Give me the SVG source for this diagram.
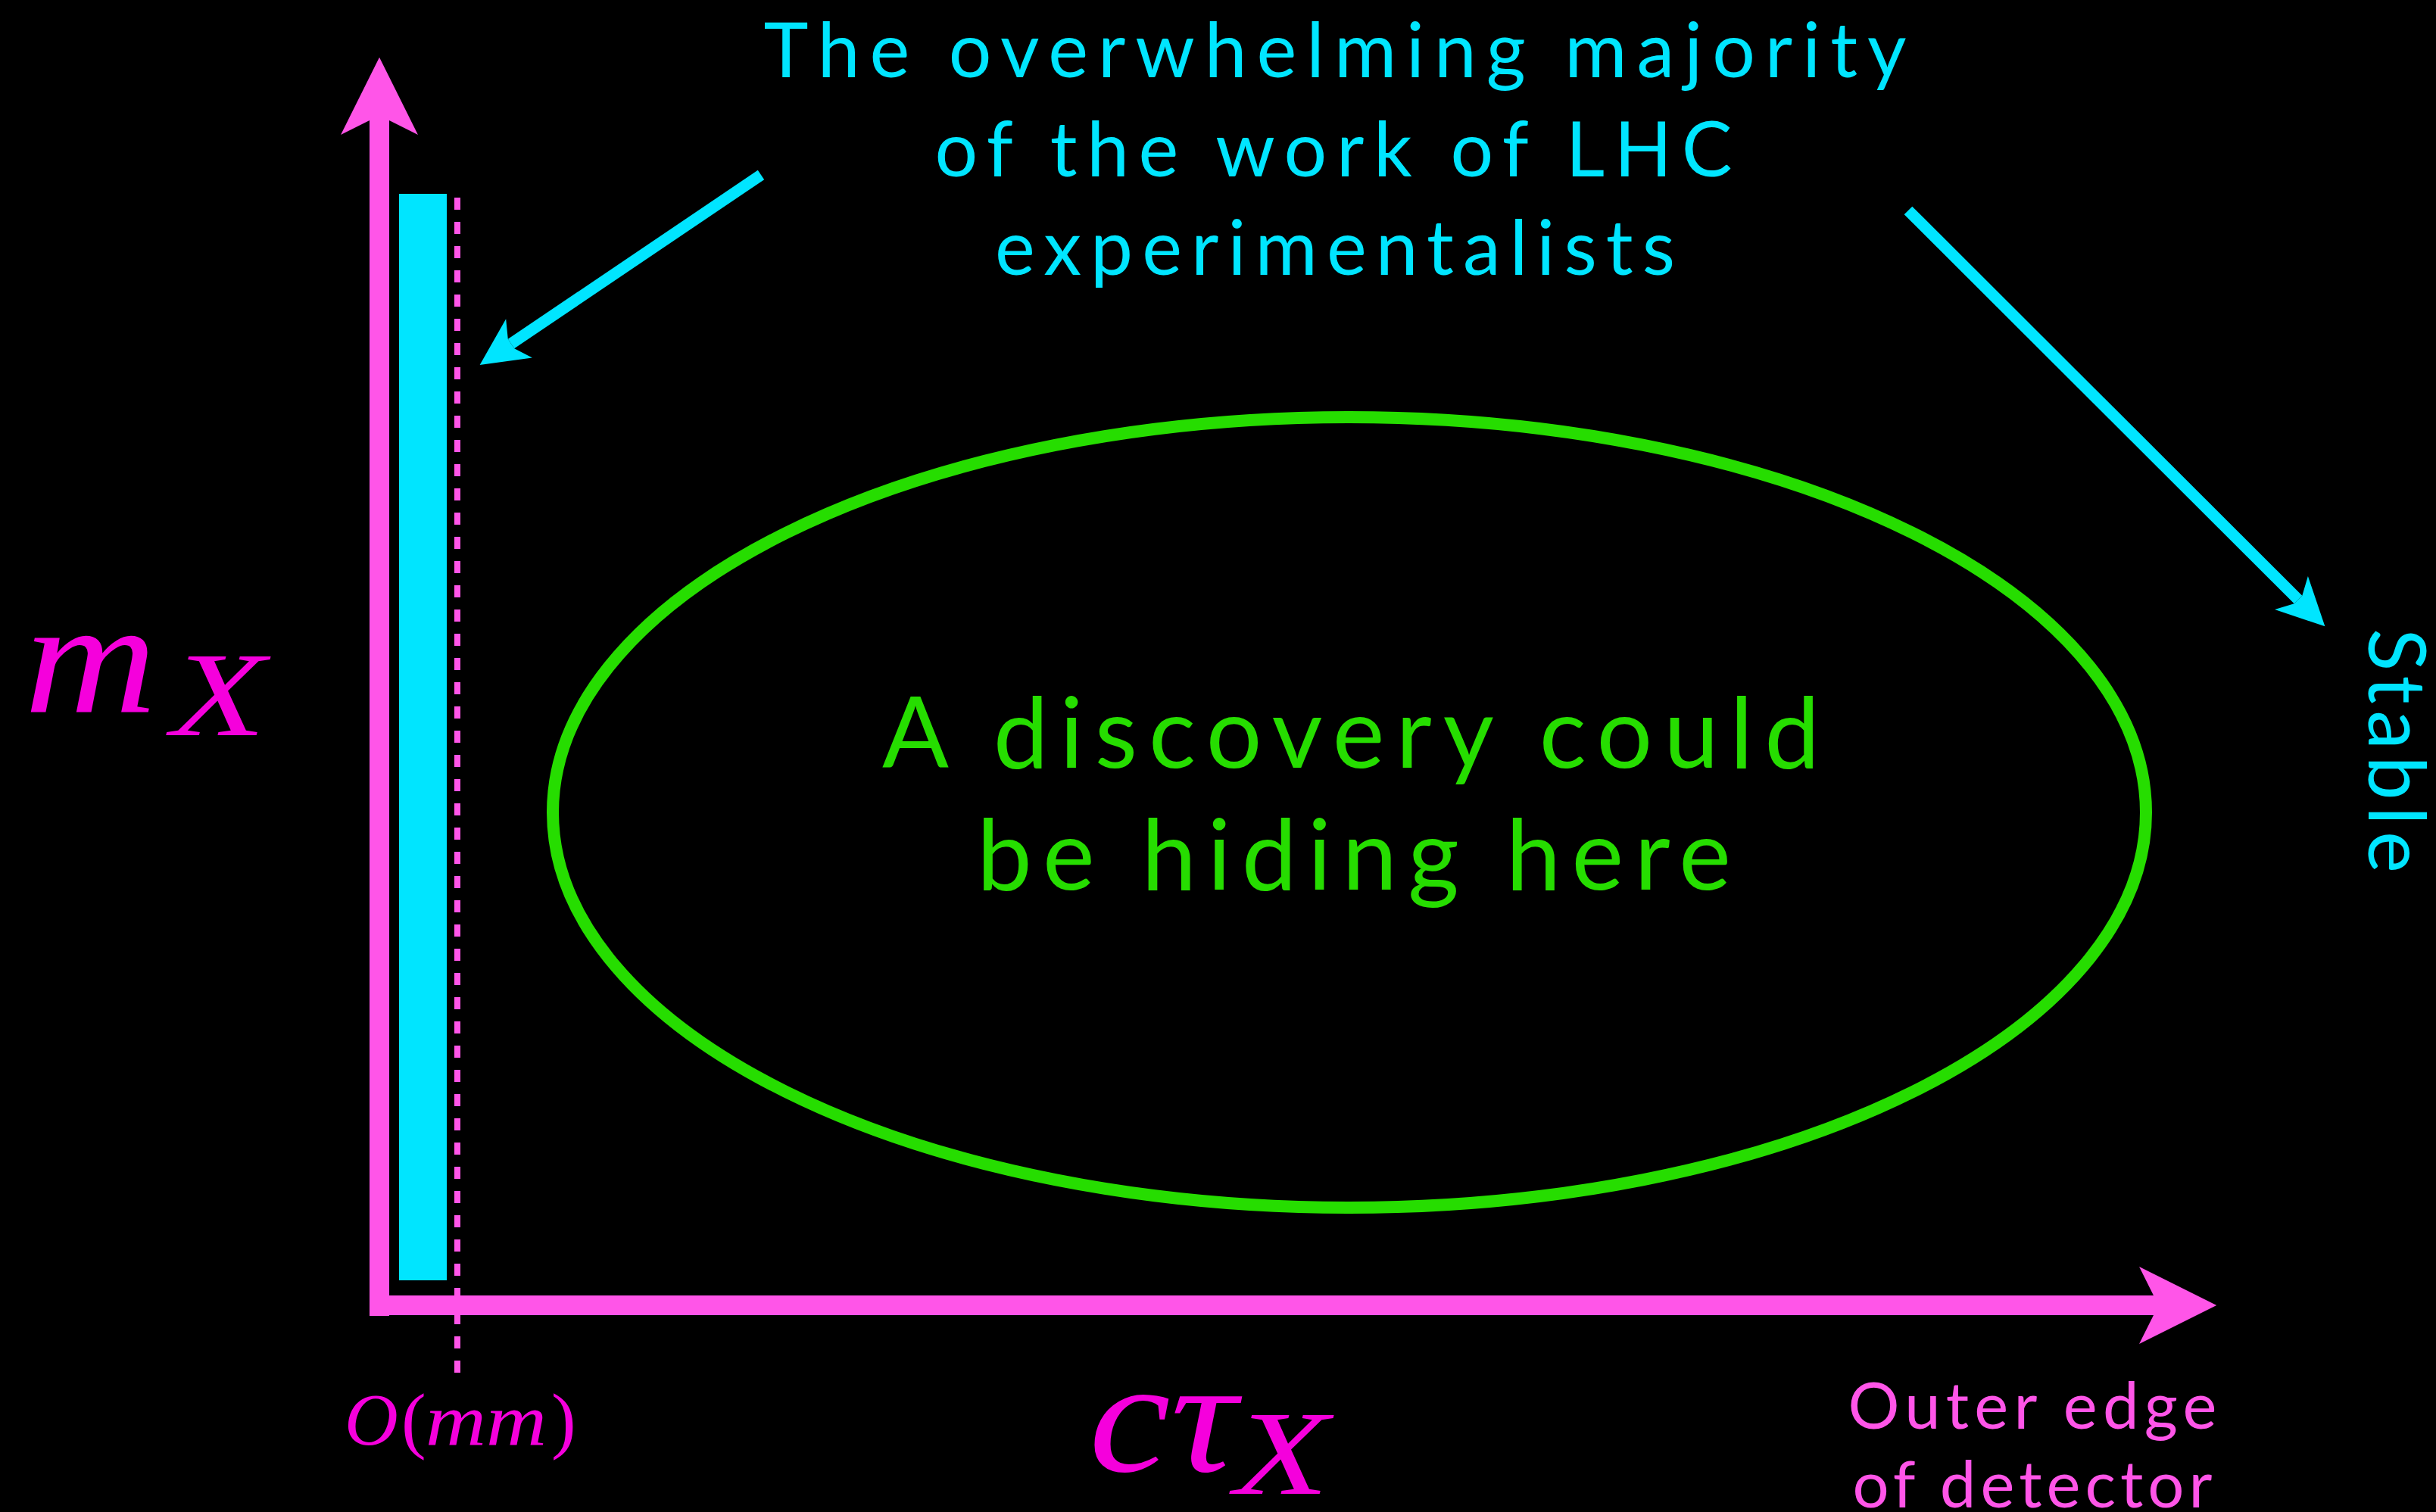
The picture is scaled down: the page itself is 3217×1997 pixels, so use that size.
<svg xmlns="http://www.w3.org/2000/svg" width="3217" height="1997" viewBox="0 0 3217 1997">
  <style>
    .lbl { font-family: Lato, "Open Sans", "DejaVu Sans", sans-serif; font-weight: 400; text-anchor: middle; }
    .cyan { fill: #00e5ff; }
    .green { fill: #26dd00; }
    .pinktxt { fill: #ff55e8; }
    .math { font-family: "Liberation Serif", "DejaVu Serif", serif; fill: #f500dc; }
    .it { font-style: italic; }
    .axis { stroke: #ff55e8; stroke-width: 26; fill: none; }
    .pointer { stroke: #00e5ff; stroke-width: 15; fill: none; }
  </style>
  <defs>
    <marker id="headPink" markerUnits="strokeWidth" viewBox="-1 -2.1 4.4 4.2" refX="0" refY="0" markerWidth="4.4" markerHeight="4.2" orient="auto" overflow="visible">
      <path d="M3.2,0 L-0.73,-1.96 L0,-0.5 L0,0.5 L-0.73,1.96 Z" fill="#ff55e8"/>
    </marker>
    <marker id="headCyan" markerUnits="strokeWidth" viewBox="-1 -2.2 4.5 4.4" refX="0" refY="0" markerWidth="4.5" markerHeight="4.4" orient="auto" overflow="visible">
      <path d="M3.33,0 L-0.85,-2.07 L0,-0.5 L0,0.5 L-0.85,2.07 Z" fill="#00e5ff"/>
    </marker>
  </defs>
  <rect x="0" y="0" width="3217" height="1997" fill="#000"/>

  <g id="lhc-band">
    <rect x="527" y="256" width="63" height="1435" fill="#00e5ff"/>
  </g>
  <g id="mm-line">
    <path d="M604,261 V1813" stroke="#ff55e8" stroke-width="8" stroke-dasharray="16 16" fill="none"/>
  </g>

  <g id="discovery-region">
    <ellipse cx="1782" cy="1073" rx="1052" ry="522" fill="none" stroke="#26dd00" stroke-width="16"/>
    <text class="lbl green" x="1784" y="1014" font-size="130" textLength="1238" lengthAdjust="spacing">A discovery could</text>
    <text class="lbl green" x="1788" y="1175" font-size="130" textLength="996" lengthAdjust="spacing">be hiding here</text>
  </g>

  <g id="majority-label">
    <text class="lbl cyan" x="1763" y="102" font-size="100" textLength="1509" lengthAdjust="spacing">The overwhelming majority</text>
    <text class="lbl cyan" x="1761" y="233" font-size="100" textLength="1053" lengthAdjust="spacing">of the work of LHC</text>
    <text class="lbl cyan" x="1763" y="363" font-size="100" textLength="898" lengthAdjust="spacing">experimentalists</text>
  </g>

  <g id="stable-label">
    <text class="cyan" transform="translate(3128,830) rotate(90)" x="0" y="0" font-family="Lato, 'Open Sans', 'DejaVu Sans', sans-serif" font-weight="400" font-size="104" textLength="323" lengthAdjust="spacing">Stable</text>
  </g>

  <g id="outer-edge-label">
    <text class="lbl pinktxt" x="2684" y="1887" font-size="85" textLength="487" lengthAdjust="spacing">Outer edge</text>
    <text class="lbl pinktxt" x="2684" y="1991" font-size="85" textLength="475" lengthAdjust="spacing">of detector</text>
  </g>

  <g id="y-label">
    <text class="math it" x="32" y="941" font-size="215" textLength="175" lengthAdjust="spacingAndGlyphs">m</text>
    <text class="math it" x="226" y="971" font-size="158" textLength="125" lengthAdjust="spacingAndGlyphs">X</text>
  </g>

  <g id="x-label">
    <text class="math it" x="1438" y="1943" font-size="215" textLength="195" lengthAdjust="spacingAndGlyphs">cτ</text>
    <text class="math it" x="1630" y="1973" font-size="158" textLength="125" lengthAdjust="spacingAndGlyphs">X</text>
  </g>

  <g id="mm-label">
    <text class="math" y="1908" font-size="98"><tspan class="it" x="455">O</tspan><tspan x="530">(</tspan><tspan class="it" x="562" textLength="160" lengthAdjust="spacingAndGlyphs">mm</tspan><tspan x="728">)</tspan></text>
  </g>

  <g id="connectors">
    <path class="axis" d="M501,1738 V159" marker-end="url(#headPink)"/>
    <path class="axis" d="M488,1724 H2844" marker-end="url(#headPink)"/>
    <path class="pointer" d="M1005,231 L675,454" marker-end="url(#headCyan)"/>
    <path class="pointer" d="M2520,278 L3035,792" marker-end="url(#headCyan)"/>
  </g>
</svg>
